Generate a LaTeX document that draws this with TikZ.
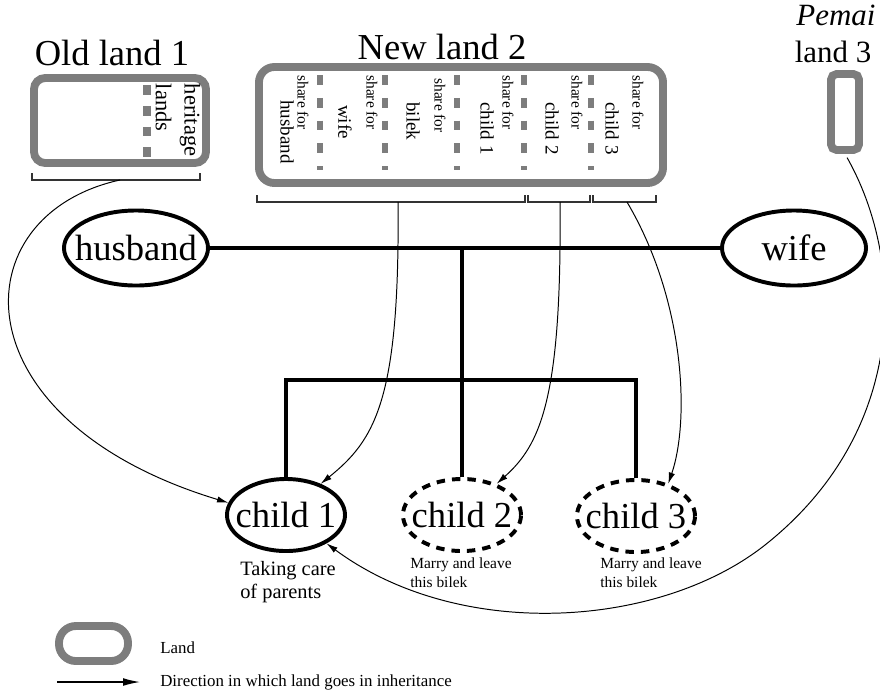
\documentclass[tikz,border=0pt]{standalone}
\usepackage{fontspec}
\setmainfont{Liberation Serif}
\usepackage{tikz}
\usetikzlibrary{shapes.geometric, arrows.meta, positioning, calc}
\definecolor{landcolor}{RGB}{125,125,125}
\newcommand{\inbox}[1]{\makebox[0pt]{#1}}

\begin{document}
\begin{tikzpicture}[
    x=0.025cm, y=-0.025cm,
    land/.style={draw=landcolor, line width=5.6pt, rounded corners=8pt, inner sep=0pt},
    split/.style={draw=landcolor, line width=4.3pt, dash pattern=on 7pt off 9.2pt},
    person/.style={draw, ellipse, line width=2.8pt, minimum width=3.6cm, minimum height=1.875cm, inner sep=0pt, font=\fontsize{26}{30}\selectfont},
    kid/.style={person, minimum width=2.95cm, minimum height=1.8cm},
    away/.style={kid, dash pattern=on 6pt off 5pt},
    tree/.style={line width=2.8pt},
    brace/.style={line width=0.9pt, black!80},
    inherit/.style={-{Latex[length=8pt,width=4.5pt]}, line width=0.7pt},
    title/.style={font=\fontsize{26}{30}\selectfont, inner sep=0pt, anchor=base},
    share/.style={font=\fontsize{11}{13}\selectfont, rotate=-90, anchor=west, inner sep=0pt},
    part/.style={font=\fontsize{13.5}{16}\selectfont, rotate=-90, anchor=west, inner sep=0pt},
    note/.style={font=\fontsize{11}{13.5}\selectfont, align=left, anchor=north west, inner sep=0pt}
]
    \useasboundingbox (0,0) rectangle (880,693);

    % Lands
    \node[land, minimum width=4.3cm, minimum height=2.125cm] (old) at (120,120.5) {};
    \node[land, rounded corners=11pt, minimum width=10.1cm, minimum height=2.9cm] (new) at (461,125) {};
    \node[land, rounded corners=4pt, minimum width=0.7cm, minimum height=1.9cm] (pemai) at (845,112) {};

    \node[title] (oldtitle) at (112,65) {Old land 1};
    \node[title] (newtitle) at (442,59) {New land 2};
    \node[title, font=\fontsize{22}{26}\selectfont] (pemaititle) at (836,25) {\textit{Pemai}};
    \node[title, font=\fontsize{22}{26}\selectfont] (pemailand) at (833,62) {land 3};

    % Old land parts
    \draw[split, line width=6pt, dash pattern=on 7pt off 7.8pt] (147,85) -- (147,159);
    \node[font=\fontsize{16}{20.5}\selectfont, rotate=-90, align=left, inner sep=0pt] (heritage) at (178,120) {heritage\\lands};

    % New land shares
    \draw[split] (320,75) -- (320,170);
    \draw[split] (385,75) -- (385,170);
    \draw[split] (457,75) -- (457,170);
    \draw[split] (524,75) -- (524,170);
    \draw[split] (591,75) -- (591,170);

    \node[share] (sharehusband) at (303,75) {share for};
    \node[part] (parthusband) at (287,100) {husband};
    \node[share] (sharewife) at (372,75) {share for};
    \node[part] (partwife) at (345,105) {wife};
    \node[share] (sharebilek) at (440,78) {share for};
    \node[part] (partbilek) at (413,102) {bilek};
    \node[share] (sharechild1) at (508,75) {share for};
    \node[part] (partchild1) at (487,102) {child 1};
    \node[share] (sharechild2) at (577,75) {share for};
    \node[part] (partchild2) at (552,102) {child 2};
    \node[share] (sharechild3) at (638,75) {share for};
    \node[part] (partchild3) at (612,102) {child 3};

    % Brackets under the lands
    \draw[brace] (32,173) |- (200,180) -- (200,173);
    \coordinate (oldshare) at (120,180);
    \draw[brace] (257,195) |- (525,202) -- (525,195);
    \coordinate (mainshare) at (398,202);
    \draw[brace] (528,195) |- (590,202) -- (590,195);
    \coordinate (c2share) at (560,202);
    \draw[brace] (593,195) |- (656,202) -- (656,195);
    \coordinate (c3share) at (627,202);

    % Family
    \node[person] (husband) at (136,248) {\inbox{husband}};
    \node[person] (wife) at (794,248) {\inbox{wife}};
    \node[kid] (child1) at (286,515) {\inbox{child 1}};
    \node[away] (child2) at (462,515) {\inbox{child 2}};
    \node[away] (child3) at (636,516) {\inbox{child 3}};

    \coordinate (kids) at (462,380);
    \draw[tree] (husband) -- (wife);
    \draw[tree] (child2.north |- husband) -- (child2.north);
    \draw[tree] (child1.north) |- (kids) -| (child3.north);

    \node[note, font=\fontsize{14.5}{16.3}\selectfont] (care) at (240,561) {Taking care\\of parents};
    \node[note] (leave2) at (410,557) {Marry and leave\\this bilek};
    \node[note] (leave3) at (600,557) {Marry and leave\\this bilek};

    % Inheritance
    \draw[inherit] (oldshare) .. controls (-40,215) and (-45,420) .. (child1.168);
    \draw[inherit] (mainshare) .. controls (400,400) and (375,440) .. (child1.42);
    \draw[inherit] (c2share) .. controls (562,400) and (540,445) .. (child2.42);
    \draw[inherit] (c3share) .. controls (685,300) and (690,420) .. (child3.45);
    \draw[inherit, shorten <=3pt] (pemai.south) .. controls (905,260) and (910,430) .. (765,545)
        .. controls (660,628) and (460,642) .. (child1.-35);

    % Legend
    \node[land, rounded corners=12pt, minimum width=1.725cm, minimum height=0.875cm] (legland) at (93.5,643.5) {};
    \node[anchor=west, font=\fontsize{12}{14}\selectfont, inner sep=0pt] (landtext) at (160,648) {Land};
    \coordinate (legstart) at (57,682);
    \coordinate (legtip) at (140,682);
    \draw[inherit, -{Latex[length=12pt,width=5.5pt]}, line width=0.9pt] (legstart) -- (legtip);
    \node[anchor=west, font=\fontsize{12}{14}\selectfont, inner sep=0pt] (dirtext) at (160,682) {Direction in which land goes in inheritance};
\end{tikzpicture}
\end{document}
